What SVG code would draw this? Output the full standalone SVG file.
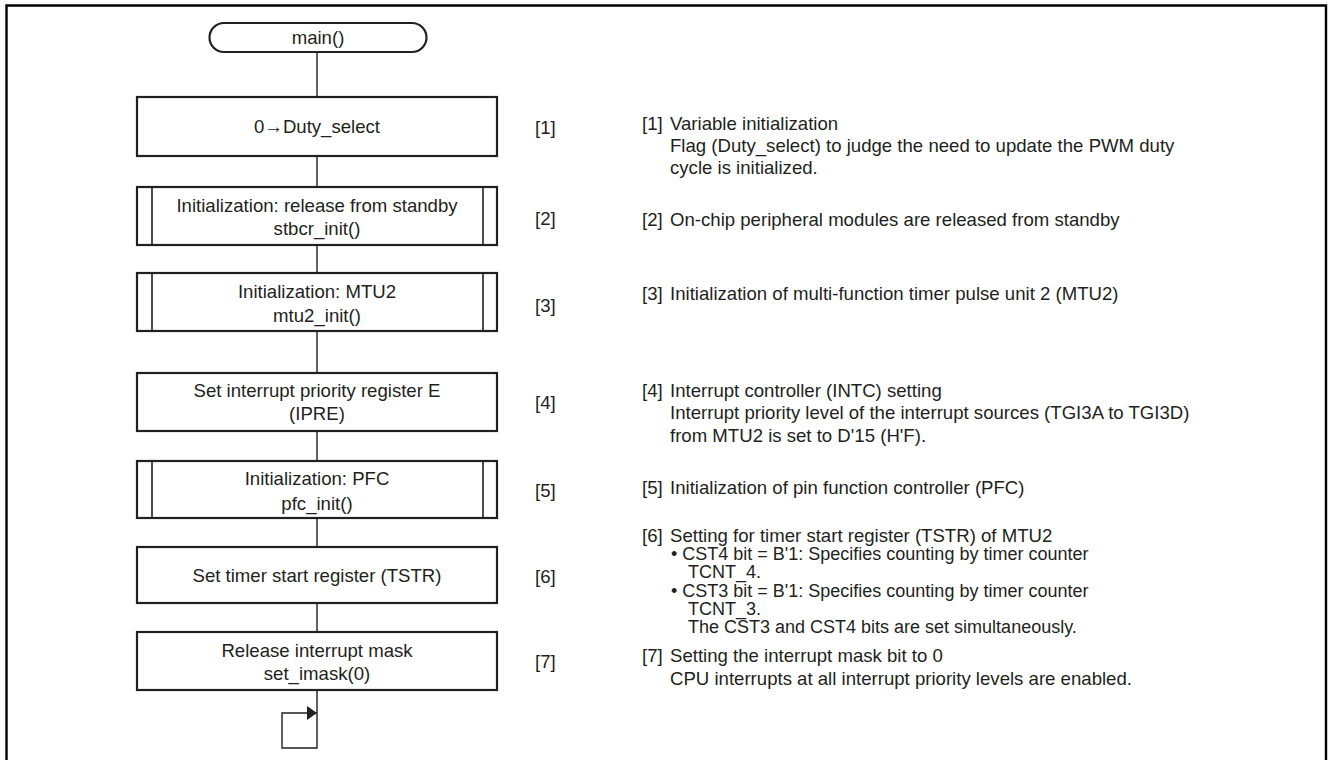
<svg xmlns="http://www.w3.org/2000/svg" width="1330" height="760" viewBox="0 0 1330 760">
<style>
text{font-family:"Liberation Sans",Arial,sans-serif;font-size:18.6px;fill:#231f20}
.c{text-anchor:middle}
.box{fill:#fff;stroke:#231f20;stroke-width:2.2}
.in{stroke:#231f20;stroke-width:1.6;fill:none}
.ln{stroke:#231f20;stroke-width:1.4;fill:none}
.fr{stroke:#000;stroke-width:2.4;fill:none}
.sm{font-size:18px}
</style>
<defs>
<marker id="ah" markerWidth="10" markerHeight="14" refX="10" refY="7" orient="auto" markerUnits="userSpaceOnUse">
<path d="M0,0 L10,7 L0,14 Z" fill="#231f20"/>
</marker>
</defs>
<path class="fr" d="M6.5,765 V5.5 H1326 V765"/>
<g id="connectors">
<line class="ln" x1="317" y1="52" x2="317" y2="97"/>
<line class="ln" x1="317" y1="156" x2="317" y2="187"/>
<line class="ln" x1="317" y1="245" x2="317" y2="273"/>
<line class="ln" x1="317" y1="331" x2="317" y2="373"/>
<line class="ln" x1="317" y1="431" x2="317" y2="461"/>
<line class="ln" x1="317" y1="518" x2="317" y2="547"/>
<line class="ln" x1="317" y1="603" x2="317" y2="632"/>
<path class="ln" d="M317,690 V748 H282 V713 H317" marker-end="url(#ah)"/>
</g>
<g id="start">
<rect class="box" x="209.5" y="23" width="217" height="29" rx="14.5"/>
<text class="c" x="318" y="43.5">main()</text>
</g>
<g id="step1">
<rect class="box" x="137" y="97" width="360" height="59"/>
<text class="c" x="317" y="133">0→Duty_select</text>
</g>
<g id="step2">
<rect class="box" x="137" y="187" width="360" height="58"/>
<line class="in" x1="152" y1="187" x2="152" y2="245"/>
<line class="in" x1="483" y1="187" x2="483" y2="245"/>
<text class="c" x="317" y="212">Initialization: release from standby</text>
<text class="c" x="317" y="235">stbcr_init()</text>
</g>
<g id="step3">
<rect class="box" x="137" y="273" width="360" height="58"/>
<line class="in" x1="152" y1="273" x2="152" y2="331"/>
<line class="in" x1="483" y1="273" x2="483" y2="331"/>
<text class="c" x="317" y="298">Initialization: MTU2</text>
<text class="c" x="317" y="322">mtu2_init()</text>
</g>
<g id="step4">
<rect class="box" x="137" y="373" width="360" height="58"/>
<text class="c" x="317" y="397">Set interrupt priority register E</text>
<text class="c" x="317" y="420">(IPRE)</text>
</g>
<g id="step5">
<rect class="box" x="137" y="461" width="360" height="57"/>
<line class="in" x1="152" y1="461" x2="152" y2="518"/>
<line class="in" x1="483" y1="461" x2="483" y2="518"/>
<text class="c" x="317" y="485">Initialization: PFC</text>
<text class="c" x="317" y="510">pfc_init()</text>
</g>
<g id="step6">
<rect class="box" x="137" y="547" width="360" height="56"/>
<text class="c" x="317" y="582">Set timer start register (TSTR)</text>
</g>
<g id="step7">
<rect class="box" x="137" y="632" width="360" height="58"/>
<text class="c" x="317" y="657">Release interrupt mask</text>
<text class="c" x="317" y="680">set_imask(0)</text>
</g>
<g id="labels">
<text x="535" y="134">[1]</text>
<text x="535" y="225">[2]</text>
<text x="535" y="312">[3]</text>
<text x="535" y="409">[4]</text>
<text x="535" y="497">[5]</text>
<text x="535" y="583">[6]</text>
<text x="535" y="668">[7]</text>
</g>
<g id="notes">
<text x="642" y="130">[1]</text>
<text x="670" y="130">Variable initialization</text>
<text x="670" y="152">Flag (Duty_select) to judge the need to update the PWM duty</text>
<text x="670" y="174">cycle is initialized.</text>
<text x="642" y="226">[2]</text>
<text x="670" y="226">On-chip peripheral modules are released from standby</text>
<text x="642" y="300">[3]</text>
<text x="670" y="300">Initialization of multi-function timer pulse unit 2 (MTU2)</text>
<text x="642" y="397">[4]</text>
<text x="670" y="397">Interrupt controller (INTC) setting</text>
<text x="670" y="419">Interrupt priority level of the interrupt sources (TGI3A to TGI3D)</text>
<text x="670" y="442">from MTU2 is set to D'15 (H'F).</text>
<text x="642" y="494">[5]</text>
<text x="670" y="494">Initialization of pin function controller (PFC)</text>
<text x="642" y="542">[6]</text>
<text x="670" y="542">Setting for timer start register (TSTR) of MTU2</text>
<text class="sm" x="671" y="560">• CST4 bit = B'1: Specifies counting by timer counter</text>
<text class="sm" x="688" y="578">TCNT_4.</text>
<text class="sm" x="671" y="597">• CST3 bit = B'1: Specifies counting by timer counter</text>
<text class="sm" x="688" y="615">TCNT_3.</text>
<text class="sm" x="688" y="633">The CST3 and CST4 bits are set simultaneously.</text>
<text x="642" y="662">[7]</text>
<text x="670" y="662">Setting the interrupt mask bit to 0</text>
<text x="670" y="685">CPU interrupts at all interrupt priority levels are enabled.</text>
</g>
</svg>
